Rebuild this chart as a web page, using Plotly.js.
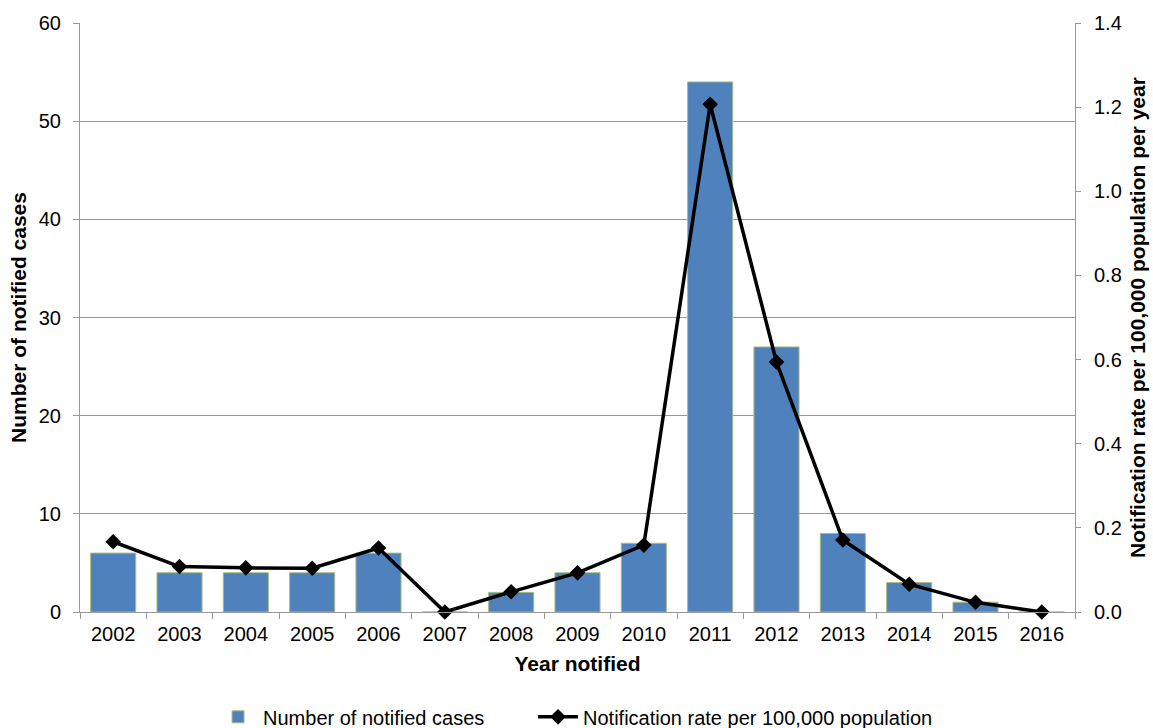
<!DOCTYPE html>
<html>
<head>
<meta charset="utf-8">
<script src="https://cdn.plot.ly/plotly-3.0.1.min.js"></script>
<style>html,body{margin:0;padding:0;background:#fff}#chart{width:1153px;height:728px}</style>
</head>
<body>
<div id="chart"></div>
<script>
const years = ['2002','2003','2004','2005','2006','2007','2008','2009','2010','2011','2012','2013','2014','2015','2016'];
const cases = [6,4,4,4,6,0,2,4,7,54,27,8,3,1,0];
const rates = [0.167,0.108,0.105,0.104,0.152,0,0.048,0.093,0.159,1.207,0.594,0.171,0.066,0.023,0];

const font = 'Liberation Sans, Arial, sans-serif';
const data = [
  {type:'bar', x:years, y:cases, name:'Number of notified cases', legend:'legend',
   marker:{color:'#4F81BD', line:{color:'#A9BE7A', width:1}}, yaxis:'y'},
  {type:'scatter', mode:'lines+markers', x:years, y:rates, name:'Notification rate per 100,000 population', legend:'legend2',
   line:{color:'#000', width:3.5}, marker:{symbol:'diamond', size:12, color:'#000'}, yaxis:'y2', cliponaxis:false}
];
const layout = {
  width:1153, height:728,
  margin:{l:80, r:78, t:23, b:116, autoexpand:false},
  paper_bgcolor:'#fff', plot_bgcolor:'#fff',
  font:{family:font, size:20, color:'#000'},
  bargap:0.32,
  showlegend:true,
  legend:{orientation:'h', x:0.1337, xanchor:'left', y:-0.178, yanchor:'middle', font:{size:20}, itemwidth:40},
  legend2:{orientation:'h', x:0.4553, xanchor:'left', y:-0.178, yanchor:'middle', font:{size:20}, itemwidth:40},
  xaxis:{type:'category', range:[-0.5,14.5], tickson:'boundaries', ticks:'outside', ticklen:6, tickcolor:'#999',
    showline:true, linecolor:'#999', linewidth:1, showgrid:false, automargin:false,
    ticklabelstandoff:4,
    title:{text:'<b>Year notified</b>', font:{size:21}, standoff:12}, tickfont:{size:20}},
  yaxis:{range:[0,60], dtick:10, showgrid:true, gridcolor:'#999', gridwidth:1,
    showline:true, linecolor:'#999', ticks:'outside', ticklen:6, tickcolor:'#999',
    zeroline:false, tickfont:{size:20}, automargin:false, ticklabelstandoff:8,
    title:{text:'<b>Number of notified cases</b>', font:{size:21}, standoff:6}},
  yaxis2:{range:[0,1.4], dtick:0.2, tickformat:'.1f', overlaying:'y', side:'right', showgrid:false,
    showline:true, linecolor:'#999', ticks:'outside', ticklen:5, tickcolor:'#999', zeroline:false,
    tickfont:{size:20}, automargin:false, ticklabelstandoff:9,
    title:{text:'<b>Notification rate per 100,000 population per year</b>', font:{size:21}, standoff:9}}
};
Plotly.newPlot('chart', data, layout, {displayModeBar:false});
</script>
</body>
</html>
